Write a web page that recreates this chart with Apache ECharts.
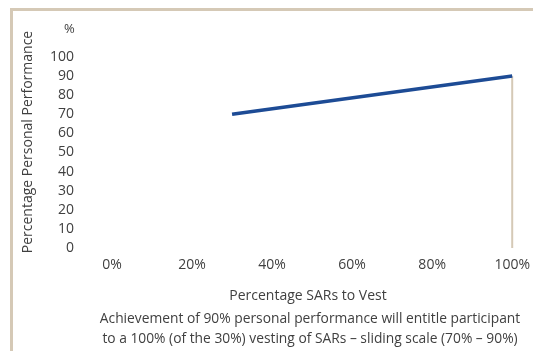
<!DOCTYPE html>
<html>
<head>
<meta charset="utf-8">
<script src="https://cdn.jsdelivr.net/npm/echarts@6/dist/echarts.min.js"></script>
<style>html,body{margin:0;padding:0;background:#fff}#c{width:533px;height:351px}</style>
</head>
<body>
<div id="c"></div>
<script>
// Data
const sarsToVest = [30, 100];          // % SARs to vest (x)
const personalPerformance = [70, 90];  // % personal performance (y)
const dropLineX = [100, 100];
const dropLineY = [0, 90];
const xTickValues = [0, 20, 40, 60, 80, 100];
const yTickValues = [0, 10, 20, 30, 40, 50, 60, 70, 80, 90, 100];
const xAxisTitle = 'Percentage SARs to Vest';
const yAxisTitle = 'Percentage Personal Performance';
const yUnit = '%';
const captionLines = [
  'Achievement of 90% personal performance will entitle participant',
  'to a 100% (of the 30%) vesting of SARs \u2013 sliding scale (70% \u2013 90%)'
];

const FONT = '"Open Sans", Lato, sans-serif';
const TXT = '#404040';
const FRAME = '#d5c9b6';

const chart = echarts.init(document.getElementById('c'), null, {renderer: 'canvas'});
chart.setOption({
  animation: false,
  backgroundColor: '#fff',
  grid: {left: 112, right: 18, top: 57, bottom: 103},
  xAxis: {
    type: 'value', min: 0, max: 100, interval: 20,
    axisLine: {show: false}, axisTick: {show: false}, splitLine: {show: false},
    axisLabel: {formatter: v => xTickValues.includes(v) ? v + '%' : '', color: TXT, fontFamily: FONT, fontSize: 14, margin: 10}
  },
  yAxis: {
    type: 'value', min: 0, max: 100, interval: 10,
    axisLine: {show: false}, axisTick: {show: false}, splitLine: {show: false},
    axisLabel: {formatter: v => yTickValues.includes(v) ? String(v) : '', color: TXT, fontFamily: FONT, fontSize: 14, margin: 38}
  },
  series: [
    {
      type: 'line', data: dropLineX.map((x, i) => [x, dropLineY[i]]),
      symbol: 'none', lineStyle: {color: FRAME, width: 2}, silent: true
    },
    {
      type: 'line', data: sarsToVest.map((x, i) => [x, personalPerformance[i]]),
      symbol: 'none', lineStyle: {color: '#1d4b95', width: 3.5}
    }
  ],
  graphic: [
    {type: 'rect', shape: {x: 10, y: 8, width: 530, height: 3}, style: {fill: FRAME}, silent: true},
    {type: 'rect', shape: {x: 10, y: 8, width: 3, height: 350}, style: {fill: FRAME}, silent: true},
    {type: 'text', left: 64, top: 23, style: {text: yUnit, fill: TXT, font: '13px ' + FONT}},
    {type: 'text', x: 28, y: 142, rotation: Math.PI / 2,
      style: {text: yAxisTitle, fill: TXT, font: '14px ' + FONT, textAlign: 'center', textVerticalAlign: 'middle'}},
    {type: 'text', x: 308, y: 296,
      style: {text: xAxisTitle, fill: TXT, font: '14px ' + FONT, textAlign: 'center', textVerticalAlign: 'middle'}},
    {type: 'text', x: 310, y: 319,
      style: {text: captionLines[0], fill: TXT, font: '13.8px ' + FONT, textAlign: 'center', textVerticalAlign: 'middle'}},
    {type: 'text', x: 310, y: 339,
      style: {text: captionLines[1], fill: TXT, font: '13.8px ' + FONT, textAlign: 'center', textVerticalAlign: 'middle'}}
  ]
});
</script>
</body>
</html>
